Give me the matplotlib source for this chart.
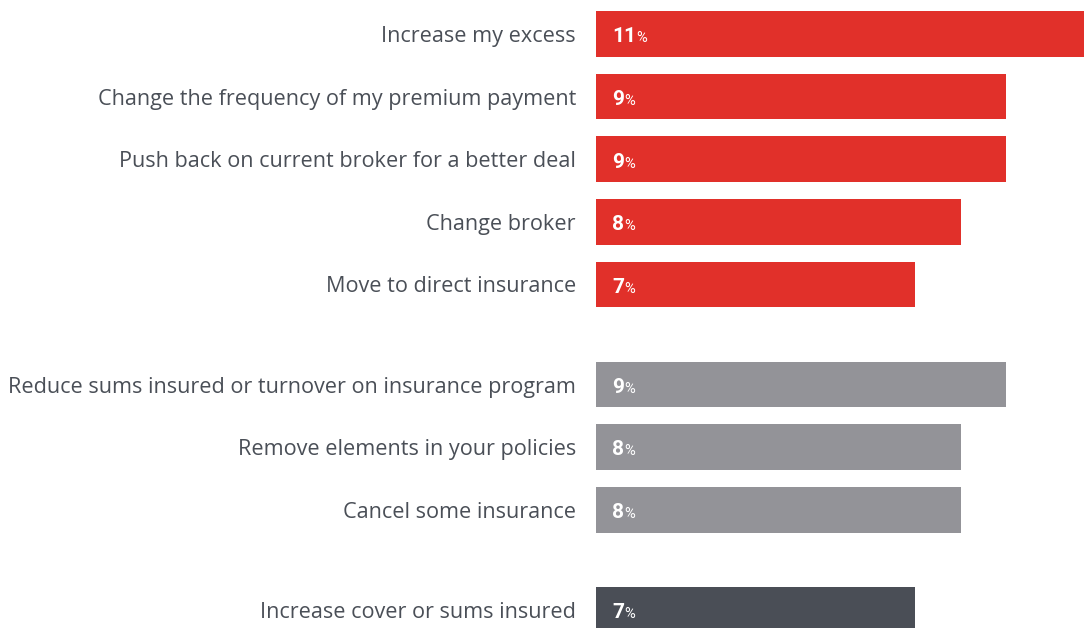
import matplotlib
matplotlib.use('Agg')
import matplotlib.pyplot as plt

plt.rcParams['font.family'] = ['Open Sans', 'DejaVu Sans']

# answers, top to bottom
labels = [
    'Increase my excess',
    'Change the frequency of my premium payment',
    'Push back on current broker for a better deal',
    'Change broker',
    'Move to direct insurance',
    'Reduce sums insured or turnover on insurance program',
    'Remove elements in your policies',
    'Cancel some insurance',
    'Increase cover or sums insured',
]
values = [11, 9, 9, 8, 7, 9, 8, 8, 7]
groups = [0, 0, 0, 0, 0, 1, 1, 1, 2]
group_colors = ['#E1302A', '#939398', '#4A4E56']
text_color = '#4A4F57'

gap = 0.6  # extra space between groups
pos = [i + gap * g for i, g in enumerate(groups)]
colors = [group_colors[g] for g in groups]

fig = plt.figure(figsize=(10.84, 6.28), dpi=100)
ax = fig.add_axes([596 / 1084, 0, 488 / 1084, 1])

ax.barh(pos, values, height=0.727, color=colors)
ax.set_xlim(0, 10.71)
ax.set_ylim(9.489, -0.543)

ax.set_yticks(pos, labels)
ax.tick_params(axis='y', length=0, pad=14.4, labelsize=15.6, labelcolor=text_color)
ax.set_xticks([])
for s in ax.spines.values():
    s.set_visible(False)

# value labels: bold number followed by a smaller percent sign
for p, v in zip(pos, values):
    t = ax.annotate(str(v), xy=(0, p), xytext=(11.5, -6), textcoords='offset points',
                    ha='left', va='baseline', color='white', fontsize=15,
                    fontweight='bold', fontfamily='Roboto')
    ax.annotate('%', xy=(1, p), xycoords=(t, 'data'), xytext=(0.3, -6),
                textcoords='offset points', ha='left', va='baseline',
                color='white', fontsize=10.5, fontfamily='Roboto')

fig.savefig('out.png', dpi=100)
